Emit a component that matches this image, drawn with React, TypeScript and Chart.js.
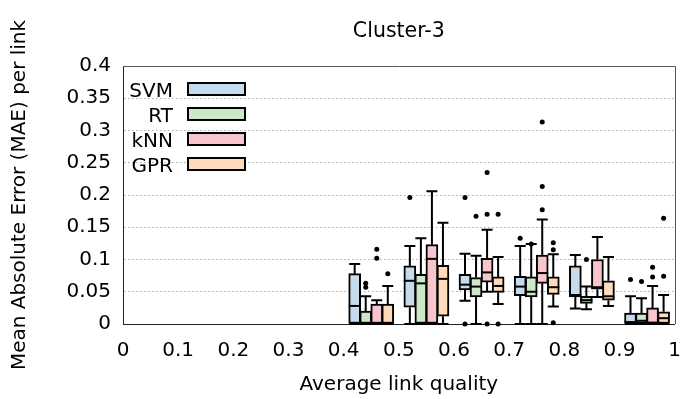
import React, { useEffect, useRef } from "react";
import { Chart, registerables } from "chart.js";

Chart.register(...registerables);

const TITLE = "Cluster-3";
const X_TITLE = "Average link quality";
const Y_TITLE = "Mean Absolute Error (MAE) per link";

const MODELS = ["SVM", "RT", "kNN", "GPR"];
const COLORS = ["#c6dbec", "#cce8c7", "#f7c5cb", "#fedcbb"];

const BIN_CENTERS = [0.45, 0.55, 0.65, 0.75, 0.85, 0.95];
const MODEL_OFFSETS = [-0.03, -0.01, 0.01, 0.03];

const X_TICKS = [0, 0.1, 0.2, 0.3, 0.4, 0.5, 0.6, 0.7, 0.8, 0.9, 1];
const Y_TICKS = [0, 0.05, 0.1, 0.15, 0.2, 0.25, 0.3, 0.35, 0.4];

// SVM
const SVM_LOW = [0, 0, 0.036, 0, 0.024, 0];
const SVM_Q1 = [0, 0.026, 0.053, 0.044, 0.042, 0];
const SVM_MED = [0.028, 0.067, 0.061, 0.058, 0.045, 0.003];
const SVM_Q3 = [0.078, 0.09, 0.077, 0.074, 0.09, 0.017];
const SVM_HIGH = [0.093, 0.121, 0.109, 0.121, 0.107, 0.043];
const SVM_OUT = [[], [0.196], [0.196, 0], [0.133], [], [0.069]];

// RT
const RT_LOW = [0, 0, 0, 0, 0.023, 0];
const RT_Q1 = [0, 0, 0.042, 0.042, 0.032, 0];
const RT_MED = [0, 0.063, 0.058, 0.05, 0.037, 0.005];
const RT_Q3 = [0.02, 0.077, 0.072, 0.073, 0.043, 0.017];
const RT_HIGH = [0.043, 0.133, 0.106, 0.124, 0.058, 0.04];
const RT_OUT = [[0.063, 0.057], [], [0.167], [0.124], [0.1], [0.066]];

// kNN
const KNN_LOW = [0, 0, 0.05, 0, 0.042, 0];
const KNN_Q1 = [0, 0, 0.065, 0.063, 0.054, 0];
const KNN_MED = [0, 0.101, 0.08, 0.079, 0.057, 0.002];
const KNN_Q3 = [0.031, 0.123, 0.102, 0.107, 0.1, 0.025];
const KNN_HIGH = [0.037, 0.206, 0.146, 0.162, 0.135, 0.059];
const KNN_OUT = [[0.116, 0.102], [], [0.235, 0.17, 0], [0.313, 0.213, 0.177], [], [0.088, 0.073]];

// GPR
const GPR_LOW = [0, 0, 0.031, 0.027, 0.028, 0];
const GPR_Q1 = [0, 0.012, 0.049, 0.046, 0.037, 0];
const GPR_MED = [0, 0.07, 0.059, 0.057, 0.043, 0.009];
const GPR_Q3 = [0.031, 0.091, 0.073, 0.073, 0.067, 0.019];
const GPR_HIGH = [0.059, 0.157, 0.104, 0.108, 0.104, 0.045];
const GPR_OUT = [[0.078], [], [0.17, 0], [0.126, 0.115, 0.002], [], [0.074, 0.164]];

const STATS = [
  { low: SVM_LOW, q1: SVM_Q1, med: SVM_MED, q3: SVM_Q3, high: SVM_HIGH, out: SVM_OUT },
  { low: RT_LOW, q1: RT_Q1, med: RT_MED, q3: RT_Q3, high: RT_HIGH, out: RT_OUT },
  { low: KNN_LOW, q1: KNN_Q1, med: KNN_MED, q3: KNN_Q3, high: KNN_HIGH, out: KNN_OUT },
  { low: GPR_LOW, q1: GPR_Q1, med: GPR_MED, q3: GPR_Q3, high: GPR_HIGH, out: GPR_OUT },
];

const FONT = "'DejaVu Sans', 'Liberation Sans', sans-serif";
const BOX_PX = 12;
const CAP_PX = 11;

const fmt = (v: number) => String(parseFloat(v.toFixed(2)));

const boxPlugin = {
  id: "boxExtras",
  beforeDatasetsDraw(chart: any) {
    const { ctx, scales } = chart;
    const xs = scales.x;
    const ys = scales.y;
    ctx.save();
    ctx.strokeStyle = "#000";
    ctx.lineWidth = 2;
    STATS.forEach((s, m) => {
      BIN_CENTERS.forEach((c, i) => {
        const px = xs.getPixelForValue(c + MODEL_OFFSETS[m]);
        const yLow = ys.getPixelForValue(s.low[i]);
        const yQ1 = ys.getPixelForValue(s.q1[i]);
        const yQ3 = ys.getPixelForValue(s.q3[i]);
        const yHigh = ys.getPixelForValue(s.high[i]);
        ctx.beginPath();
        ctx.moveTo(px, yQ3);
        ctx.lineTo(px, yHigh);
        ctx.moveTo(px - CAP_PX / 2, yHigh);
        ctx.lineTo(px + CAP_PX / 2, yHigh);
        ctx.moveTo(px, yQ1);
        ctx.lineTo(px, yLow);
        ctx.moveTo(px - CAP_PX / 2, yLow);
        ctx.lineTo(px + CAP_PX / 2, yLow);
        ctx.stroke();
      });
    });
    ctx.restore();
  },
  afterDatasetsDraw(chart: any) {
    const { ctx, scales, chartArea } = chart;
    const xs = scales.x;
    const ys = scales.y;
    ctx.save();
    ctx.strokeStyle = "#000";
    ctx.lineWidth = 2;
    STATS.forEach((s, m) => {
      BIN_CENTERS.forEach((c, i) => {
        const px = xs.getPixelForValue(c + MODEL_OFFSETS[m]);
        const yMed = ys.getPixelForValue(s.med[i]);
        ctx.beginPath();
        ctx.moveTo(px - BOX_PX / 2, yMed);
        ctx.lineTo(px + BOX_PX / 2, yMed);
        ctx.stroke();
      });
    });
    // frame top & right
    ctx.strokeStyle = "#555";
    ctx.lineWidth = 1;
    ctx.beginPath();
    ctx.moveTo(Math.round(chartArea.left), Math.round(chartArea.top) + 0.5);
    ctx.lineTo(Math.round(chartArea.right) + 0.5, Math.round(chartArea.top) + 0.5);
    ctx.lineTo(Math.round(chartArea.right) + 0.5, Math.round(chartArea.bottom));
    ctx.stroke();

    // title
    ctx.fillStyle = "#000";
    ctx.font = `20.5px ${FONT}`;
    ctx.textAlign = "center";
    ctx.textBaseline = "alphabetic";
    ctx.fillText(TITLE, (chartArea.left + chartArea.right) / 2, chartArea.top - 29);

    // legend
    ctx.font = `20px ${FONT}`;
    MODELS.forEach((name, m) => {
      const cy = chartArea.top + 23 + m * 25;
      ctx.textAlign = "right";
      ctx.fillStyle = "#000";
      ctx.fillText(name, chartArea.left + 50, cy + 8);
      ctx.fillStyle = COLORS[m];
      ctx.fillRect(chartArea.left + 65, cy - 6, 57, 12);
      ctx.strokeStyle = "#000";
      ctx.lineWidth = 2;
      ctx.strokeRect(chartArea.left + 65, cy - 6, 57, 12);
    });
    ctx.restore();
  },
};

export default function App() {
  const ref = useRef<HTMLCanvasElement | null>(null);

  useEffect(() => {
    document.body.style.margin = "0";
    const canvas = ref.current;
    if (!canvas) return;

    const barSets = MODELS.map((name, m) => ({
      type: "bar" as const,
      label: name,
      data: BIN_CENTERS.map((c, i) => ({ x: c + MODEL_OFFSETS[m], y: [STATS[m].q1[i], STATS[m].q3[i]] })),
      backgroundColor: COLORS[m],
      borderColor: "#000",
      borderWidth: 2,
      borderSkipped: false,
      barThickness: BOX_PX,
      grouped: false,
      clip: false,
    }));

    const outSets = MODELS.map((name, m) => ({
      type: "scatter" as const,
      label: name + " outliers",
      data: BIN_CENTERS.flatMap((c, i) => STATS[m].out[i].map((v) => ({ x: c + MODEL_OFFSETS[m], y: v }))),
      backgroundColor: "#000",
      borderColor: "#000",
      borderWidth: 0,
      pointRadius: 2.5,
      clip: false,
    }));

    const chart = new Chart(canvas, {
      type: "bar",
      data: { datasets: [...barSets, ...outSets] as any },
      options: {
        responsive: false,
        animation: false,
        devicePixelRatio: 1,
        layout: { padding: { top: 66, right: 11, left: 0, bottom: 0 } },
        plugins: {
          legend: { display: false },
          title: { display: false },
          tooltip: { enabled: false },
        },
        scales: {
          x: {
            type: "linear",
            min: 0,
            max: 1,
            offset: false,
            afterFit: (s: any) => {
              s.height = 75;
            },
            afterBuildTicks: (s: any) => {
              s.ticks = X_TICKS.map((v) => ({ value: v }));
            },
            grid: { display: false, drawTicks: false },
            border: { display: true, color: "#222", width: 1 },
            ticks: {
              color: "#000",
              font: { family: FONT, size: 20 },
              padding: 15,
              maxRotation: 0,
              autoSkip: false,
              callback: (v: any) => fmt(Number(v)),
            },
            title: {
              display: true,
              text: X_TITLE,
              color: "#000",
              font: { family: FONT, size: 20 },
              padding: { top: 0, bottom: 2 },
            },
          },
          y: {
            type: "linear",
            min: 0,
            max: 0.4,
            afterFit: (s: any) => {
              s.width = 123;
            },
            afterBuildTicks: (s: any) => {
              s.ticks = Y_TICKS.map((v) => ({ value: v }));
            },
            grid: { display: true, drawTicks: false, color: "#aaa", lineWidth: 1 },
            border: { display: true, color: "#222", width: 1, dash: [1.5, 2.5] },
            ticks: {
              color: "#000",
              font: { family: FONT, size: 20 },
              padding: 12,
              autoSkip: false,
              callback: (v: any) => fmt(Number(v)),
            },
            title: {
              display: true,
              text: Y_TITLE,
              color: "#000",
              font: { family: FONT, size: 20 },
              padding: { top: 8, bottom: 0 },
            },
          },
        },
      } as any,
      plugins: [boxPlugin],
    });

    return () => chart.destroy();
  }, []);

  return (
    <div style={{ width: 696, height: 399, background: "#fff" }}>
      <canvas ref={ref} width={696} height={399} style={{ width: 696, height: 399, display: "block" }} />
    </div>
  );
}
